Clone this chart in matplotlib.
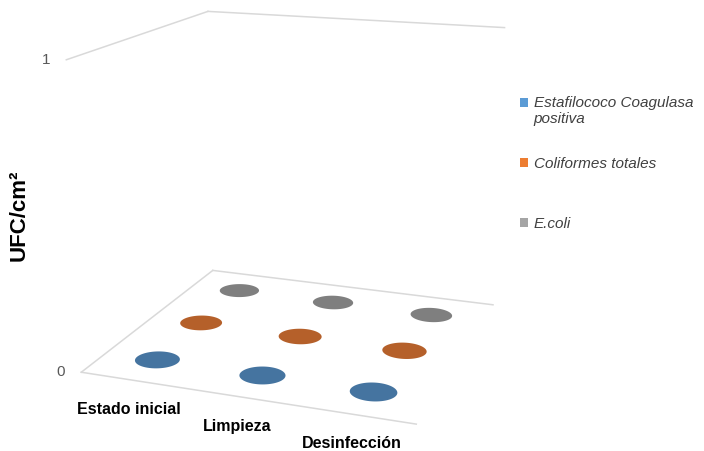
import numpy as np
import matplotlib.pyplot as plt
from matplotlib.patches import Patch, Rectangle
from matplotlib.legend_handler import HandlerPatch
from mpl_toolkits.mplot3d import proj3d
from mpl_toolkits.mplot3d.art3d import Poly3DCollection

plt.rcParams['font.family'] = ['Liberation Sans', 'DejaVu Sans']

categorias = ['Estado inicial', 'Limpieza', 'Desinfección']
series_nombres = ['Estafilococo Coagulasa\npositiva', 'Coliformes totales', 'E.coli']
estafilococo = [0, 0, 0]
coliformes = [0, 0, 0]
e_coli = [0, 0, 0]
z_ticks = [0, 1]

colores_leyenda = ['#5B9BD5', '#ED7D31', '#A5A5A5']
colores_tapa = ['#4574A0', '#B5602A', '#7F7F7F']
gris_linea = '#D9D9D9'

fig = plt.figure(figsize=(7.04, 4.51), dpi=100)
ax = fig.add_axes([0.0156, -0.067, 0.8, 1.24], projection='3d', computed_zorder=False)
ax.set_proj_type('persp', focal_length=0.45)
ax.view_init(elev=16, azim=-70)
ax.set_box_aspect((1.095, 1.04, 1.0), zoom=0.96)

n_cat = len(categorias)
n_ser = len(series_nombres)
z_max = z_ticks[-1]

# paredes: lineas de cuadricula en el lateral izquierdo y el fondo
for z in z_ticks:
    ax.plot([0, 0], [0, n_ser], [z, z], color=gris_linea, lw=1.1)
    ax.plot([0, n_cat], [n_ser, n_ser], [z, z], color=gris_linea, lw=1.1)
ax.plot([0, n_cat], [0, 0], [0, 0], color=gris_linea, lw=1.1)

# cilindros (con valor 0 solo queda la tapa)
theta = np.linspace(0, 2 * np.pi, 80)
rx, ry = 0.2, 0.2
datos = [estafilococo, coliformes, e_coli]
for j in reversed(range(n_ser)):
    for i in range(n_cat):
        cx, cy, h = i + 0.5, j + 0.5, datos[j][i]
        tapa = list(zip(cx + rx * np.cos(theta), cy + ry * np.sin(theta), np.full_like(theta, h)))
        ax.add_collection3d(Poly3DCollection([tapa], facecolor=colores_tapa[j], edgecolor='none'))

ax.set_xlim(0, n_cat)
ax.set_ylim(0, n_ser)
ax.set_zlim(0, z_max)
ax.set_axis_off()

M = ax.get_proj()
for z in z_ticks:
    px, py, _ = proj3d.proj_transform(0, 0, z, M)
    ax.annotate(str(z), (px, py), xytext=(-16, 0), textcoords='offset pixels',
                ha='right', va='center', fontsize=11, color='#595959')
for i, cat in enumerate(categorias):
    px, py, _ = proj3d.proj_transform(i + 0.5, 0, 0, M)
    ax.annotate(cat, (px, py), xytext=(-4, -29), textcoords='offset pixels',
                ha='center', va='center', fontsize=11.5, fontweight='bold', color='black')

fig.text(19 / 704, 1 - 215 / 451, 'UFC/cm²', rotation=90, ha='center', va='center',
         fontsize=16, fontweight='bold', color='black')


def cuadro_arriba(legend, orig_handle, xdescent, ydescent, width, height, fontsize):
    # el cuadrito de una etiqueta de dos lineas va junto a la primera linea
    return Rectangle((-xdescent, -ydescent + 0.55 * fontsize), width, height)


handles = [Patch(facecolor=c, edgecolor='none') for c in colores_leyenda]
ley_kw = dict(loc='upper left', frameon=False, prop={'style': 'italic', 'size': 11},
              labelcolor='#404040', handlelength=0.5, handleheight=0.5,
              handletextpad=0.4, labelspacing=2.0, borderpad=0, borderaxespad=0)
fig.legend(handles[:2], series_nombres[:2], bbox_to_anchor=(520 / 704, 1 - 96 / 451),
           handler_map={handles[0]: HandlerPatch(patch_func=cuadro_arriba)}, **ley_kw)
fig.legend(handles[2:], series_nombres[2:], bbox_to_anchor=(520 / 704, 1 - 217 / 451), **ley_kw)

fig.savefig('out.png', dpi=100)
